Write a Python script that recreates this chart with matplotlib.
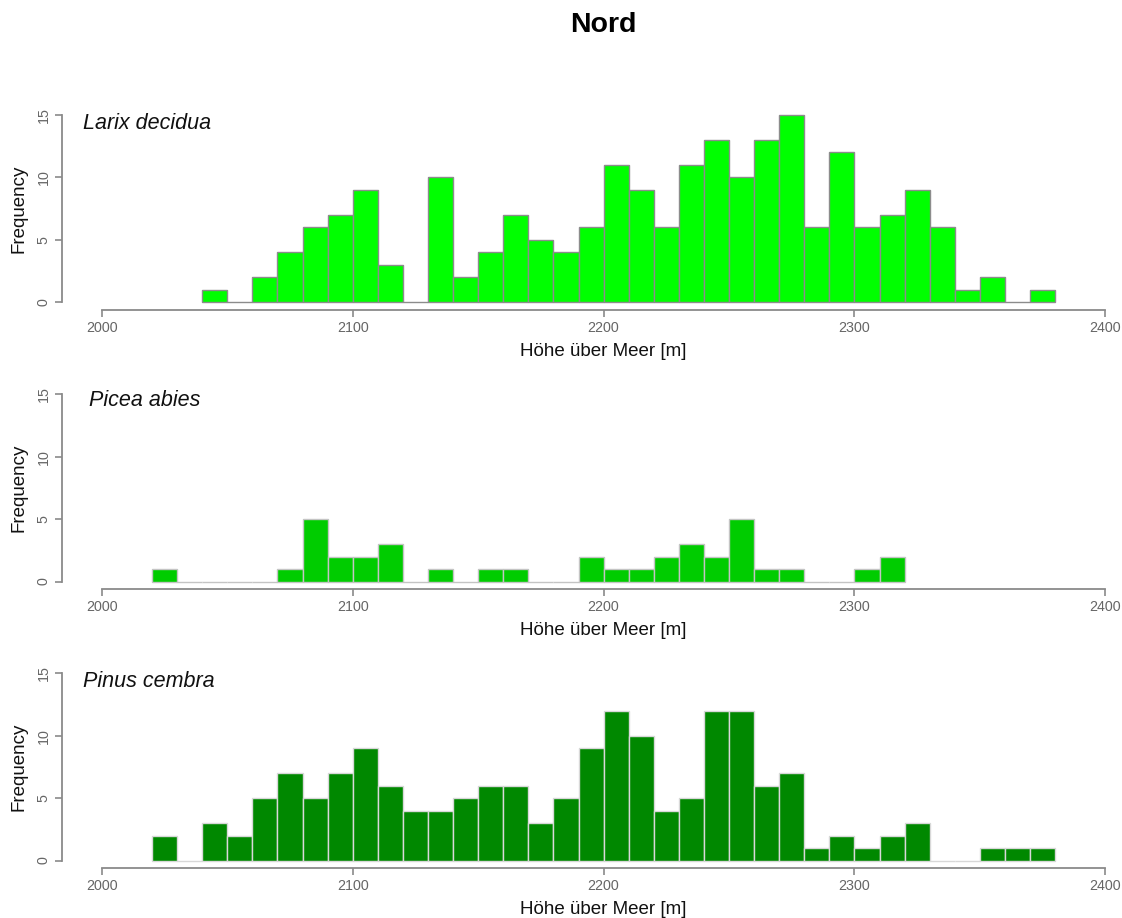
import matplotlib
matplotlib.use("Agg")
import matplotlib.pyplot as plt
import numpy as np

plt.rcParams["font.family"] = ["Liberation Sans", "DejaVu Sans"]

# Elevation classes (10 m wide, lower bound) and tree counts per class
larix_bins = list(range(2040, 2380, 10))
larix_counts = [1, 0, 2, 4, 6, 7, 9, 3, 0, 10, 2, 4, 7, 5, 4, 6, 11, 9, 6, 11,
                13, 10, 13, 15, 6, 12, 6, 7, 9, 6, 1, 2, 0, 1]

picea_bins = list(range(2020, 2320, 10))
picea_counts = [1, 0, 0, 0, 0, 1, 5, 2, 2, 3, 0, 1, 0, 1, 1, 0, 0, 2, 1, 1,
                2, 3, 2, 5, 1, 1, 0, 0, 1, 2]

pinus_bins = list(range(2020, 2380, 10))
pinus_counts = [2, 0, 3, 2, 5, 7, 5, 7, 9, 6, 4, 4, 5, 6, 6, 3, 5, 9, 12, 10,
                4, 5, 12, 12, 6, 7, 1, 2, 1, 2, 3, 0, 0, 1, 1, 1]

species = ["Larix decidua", "Picea abies", "Pinus cembra"]
x_ticks = [2000, 2100, 2200, 2300, 2400]
y_ticks = [0, 5, 10, 15]
title = "Nord"
xlabel = "Höhe über Meer [m]"
ylabel = "Frequency"

panels = [
    (larix_bins, larix_counts, "#00ff00", "#8c8c8c", 0.0197, 0.923),
    (picea_bins, picea_counts, "#00cc00", "#c4c4c4", 0.025, 0.931),
    (pinus_bins, pinus_counts, "#008800", "#d8d8d8", 0.0197, 0.921),
]

W, H = 1122, 918
fig = plt.figure(figsize=(W / 100, H / 100), dpi=100)
fig.patch.set_facecolor("white")

left_px, right_px = 61.7, 1145.5
bottoms_px = [309.5, 589.0, 868.0]
height_px = 202.0

axis_grey = "#8a8a8a"
label_grey = "#666666"

for (bins, counts, fill, edge, tx, ty), name, bpx in zip(panels, species, bottoms_px):
    ax = fig.add_axes([left_px / W, 1 - bpx / H,
                       (right_px - left_px) / W, height_px / H])
    ax.bar(bins, counts, width=10, align="edge", color=fill,
           edgecolor=edge, linewidth=1.0)
    ax.set_xlim(1984, 2416)
    ax.set_ylim(-0.6, 15.6)
    for s in ("top", "right"):
        ax.spines[s].set_visible(False)
    ax.spines["left"].set_bounds(0, 15)
    ax.spines["bottom"].set_bounds(2000, 2400)
    for s in ("left", "bottom"):
        ax.spines[s].set_color(axis_grey)
        ax.spines[s].set_linewidth(1.3)
    ax.set_xticks(x_ticks)
    ax.set_yticks(y_ticks)
    ax.set_yticklabels([str(v) for v in y_ticks], rotation=90, va="center")
    ax.tick_params(axis="both", colors=axis_grey, labelcolor=label_grey,
                   length=5, width=1.2, labelsize=10.3, pad=3)
    ax.set_xlabel(xlabel, fontsize=13.5, color="#111111", labelpad=6)
    ax.set_ylabel(ylabel, fontsize=13.5, color="#111111", va="center")
    ax.yaxis.set_label_coords(-(left_px - 19) / (right_px - left_px), 0.5)
    ax.text(tx, ty, name, transform=ax.transAxes, fontsize=15.5,
            fontstyle="italic", color="#111111", ha="left", va="center")

fig.text((left_px + right_px) / 2 / W, 1 - 25 / H, title, fontsize=20.5,
         fontweight="bold", ha="center", va="center")

fig.savefig("out.png", dpi=100)
